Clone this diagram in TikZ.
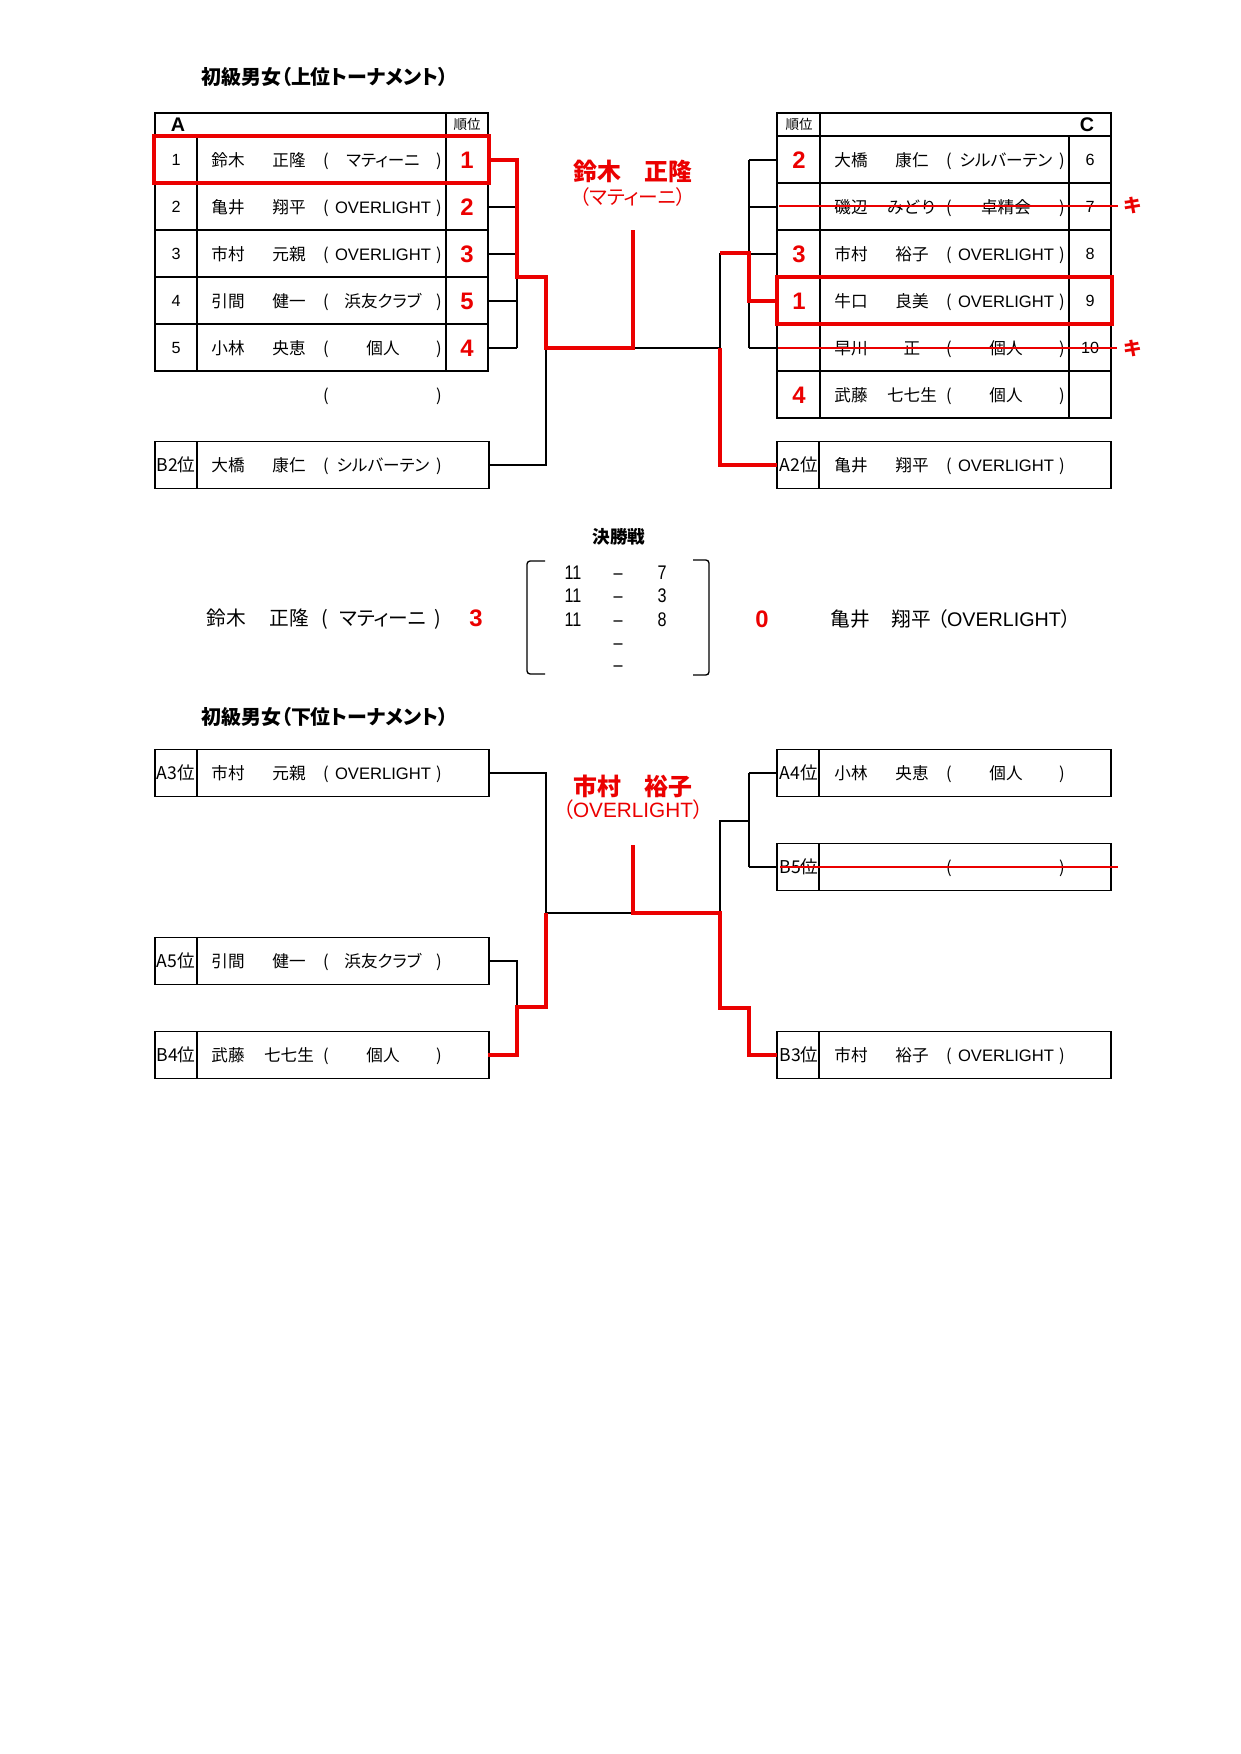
\documentclass[tikz,border=0pt]{standalone}
\usepackage{fontspec}
\usepackage{graphicx}
\setmainfont{Noto Sans CJK JP}
\newfontfamily\jpp[RawFeature=+palt]{Noto Sans CJK JP}
\newfontfamily\lat{Liberation Sans}
\definecolor{rd}{RGB}{235,0,0}
\newcommand\fs[1]{\fontsize{#1}{#1}\selectfont}
\newcommand\OL{{\lat OVERLIGHT}}
\tikzset{
 tx/.style={inner sep=0pt, text depth=0pt, text height=#1},
 nm/.style={tx=6pt, font=\fs{8}},
 af/.style={tx=6pt, font=\jpp\fs{8}},
 num/.style={tx=5.6pt, font=\lat\fs{7.8}},
 lbl/.style={tx=6.4pt, font=\fs{8.5}},
 rk/.style={tx=8.2pt, font=\lat\bfseries\fs{11.5}, text=rd},
 hd/.style={tx=4.9pt, font=\fs{6.5}},
 blk/.style={tx=6.8pt, font=\lat\bfseries\fs{9.5}},
 ttl/.style={tx=7.2pt, font=\jpp\bfseries\fs{9.6}, anchor=west},
 winA/.style={tx=8.6pt, font=\bfseries\fs{11.5}, text=rd},
 winB/.style={tx=7pt, font=\jpp\fs{9.5}, text=rd},
 fin/.style={tx=7.1pt, font=\fs{9.5}},
 fint/.style={tx=6.4pt, font=\bfseries\fs{8.5}},
 sc/.style={tx=6.8pt, font=\lat\fs{9.5}},
 scr/.style={tx=8.2pt, font=\lat\bfseries\fs{11.5}, text=rd},
 kk/.style={tx=6.8pt, font=\bfseries\fs{9}, text=rd},
 tbl/.style={line width=0.9pt},
 rl/.style={line width=0.7pt},
 conn/.style={line width=0.65pt},
 win/.style={draw=rd, line width=1.9pt},
 strike/.style={draw=rd, line width=1pt},
}
% person row: prefix, name-column left x, y, surname, given, affiliation
\newcommand\prow[6]{%
 \node[nm] (#1s) at ({#2+31},#3) {#4};
 \node[nm] (#1g) at ({#2+92},#3) {#5};
 \node[nm] (#1o) at ({#2+129},#3) {(};
 \node[af] (#1a) at ({#2+186},#3) {#6};
 \node[nm] (#1c) at ({#2+242},#3) {)};
}
% seed box: left x, center y
\newcommand\seedbox[2]{%
 \draw[tbl] (#1,{#2-23.5}) rectangle ({#1+334},{#2+23.5});
 \draw[tbl] ({#1+42},{#2-23.5}) -- ({#1+42},{#2+23.5});
}
\begin{document}
\begin{tikzpicture}[x=0.016933cm,y=-0.016933cm]
\useasboundingbox[fill=white] (0,0) rectangle (1240,1754);

% ---------- titles ----------
\node[ttl] (t1) at (201,77) {初級男女（上位トーナメント）};
\node[ttl] (t2) at (201,717) {初級男女（下位トーナメント）};

% ---------- table A ----------
\draw[tbl] (155,113) rectangle (488,371);
\draw[tbl] (155,136) -- (488,136);
\foreach \yy in {183,230,277,324} \draw[rl] (155,\yy) -- (488,\yy);
\draw[tbl] (197,136) -- (197,371);
\draw[tbl] (446,113) -- (446,371);
\node[blk] (hA) at (178,124) {A};
\node[hd] (hAr) at (467,124) {順位};
\node[num] (na1) at (176,160) {1};
\node[num] (na2) at (176,207) {2};
\node[num] (na3) at (176,254) {3};
\node[num] (na4) at (176,301) {4};
\node[num] (na5) at (176,348) {5};
\prow{a1}{197}{160}{鈴木}{正隆}{マティーニ}
\prow{a2}{197}{207}{亀井}{翔平}{\OL}
\prow{a3}{197}{254}{市村}{元親}{\OL}
\prow{a4}{197}{301}{引間}{健一}{浜友クラブ}
\prow{a5}{197}{348}{小林}{央恵}{個人}
\node[rk] (ra1) at (467,160) {1};
\node[rk] (ra2) at (467,207) {2};
\node[rk] (ra3) at (467,254) {3};
\node[rk] (ra4) at (467,301) {5};
\node[rk] (ra5) at (467,348) {4};
\node[nm] (ep1) at (326,395) {(};
\node[nm] (ep2) at (439,395) {)};
\draw[win] (154,136) rectangle (489,183);

% B2 box
\seedbox{155}{465}
\node[lbl] (lb2) at (176,465) {B2位};
\prow{b2}{197}{465}{大橋}{康仁}{シルバーテン}

% ---------- table C ----------
\draw[tbl] (777,113) rectangle (1111,418);
\draw[tbl] (777,136) -- (1111,136);
\foreach \yy in {183,230,277,324,371} \draw[rl] (777,\yy) -- (1111,\yy);
\draw[tbl] (820,113) -- (820,418);
\draw[tbl] (1069,136) -- (1069,418);
\node[hd] (hCr) at (799,124) {順位};
\node[blk] (hC) at (1087,124) {C};
\prow{c1}{820}{160}{大橋}{康仁}{シルバーテン}
\prow{c2}{820}{207}{磯辺}{みどり}{卓精会}
\prow{c3}{820}{254}{市村}{裕子}{\OL}
\prow{c4}{820}{301}{牛口}{良美}{\OL}
\prow{c5}{820}{348}{早川}{正}{個人}
\prow{c6}{820}{395}{武藤}{七七生}{個人}
\node[num] (nc1) at (1090,160) {6};
\node[num] (nc2) at (1090,207) {7};
\node[num] (nc3) at (1090,254) {8};
\node[num] (nc4) at (1090,301) {9};
\node[num] (nc5) at (1090,348) {10};
\node[rk] (rc1) at (799,160) {2};
\node[rk] (rc3) at (799,254) {3};
\node[rk] (rc4) at (799,301) {1};
\node[rk] (rc6) at (799,395) {4};
\draw[win] (777,277) rectangle (1112,324);
% strike-outs
\coordinate (s2a) at (779,206); \coordinate (s2b) at (1118,206);
\coordinate (s5a) at (778,348); \coordinate (s5b) at (1117,348);
\draw[strike] (s2a) -- (s2b);
\draw[strike] (s5a) -- (s5b);
\node[kk] (k1) at (1133,205) {キ};
\node[kk] (k2) at (1133,348) {キ};

% A2 box
\seedbox{777}{465}
\node[lbl] (la2) at (799,465) {A2位};
\prow{x2}{820}{465}{亀井}{翔平}{\OL}

% ---------- upper connectors ----------
\coordinate (A1r) at (488,160);
\coordinate (A2r) at (488,207);
\coordinate (A3r) at (488,254);
\coordinate (A4r) at (488,301);
\coordinate (A5r) at (488,348);
\coordinate (B2r) at (488,465);
\coordinate (jA1) at (517,160);
\coordinate (jA2) at (517,207);
\coordinate (jA3) at (517,254);
\coordinate (jA4) at (517,301);
\coordinate (jA5) at (517,348);
\coordinate (jA) at (517,277);
\coordinate (jAB) at (546,277);
\coordinate (jL) at (546,348);
\coordinate (jB2) at (546,465);
\coordinate (cTop) at (633,230);
\coordinate (cMid) at (633,348);
\coordinate (jR) at (720,348);
\coordinate (jRt) at (720,253);
\coordinate (jRb) at (720,465);
\coordinate (jC) at (749,253);
\coordinate (jC1) at (749,301);
\coordinate (jCt) at (749,160);
\coordinate (jC2) at (749,207);
\coordinate (jC3) at (749,254);
\coordinate (jCb) at (749,348);
\coordinate (C1l) at (777,160);
\coordinate (C2l) at (777,207);
\coordinate (C3l) at (777,254);
\coordinate (C4l) at (777,301);
\coordinate (C5l) at (777,348);
\coordinate (X2l) at (777,465);

\draw[conn] (A2r) -- (jA2);
\draw[conn] (A3r) -- (jA3);
\draw[conn] (A4r) -- (jA4);
\draw[conn] (A5r) -- (jA5);
\draw[conn] (jA2) -- (jA5);
\draw[conn] (jL) -- (jB2) -- (B2r);
\draw[conn] (cMid) -- (jR) -- (jRt);
\draw[conn] (jCt) -- (jCb);
\draw[conn] (jCt) -- (C1l);
\draw[conn] (jC2) -- (C2l);
\draw[conn] (jC3) -- (C3l);
\draw[conn] (jCb) -- (C5l);
\draw[win] (A1r) -- (jA1) -- (jA) -- (jAB) -- (jL) -- (cMid) -- (cTop);
\draw[win] (X2l) -- (jRb) -- (jR);
\draw[win] (C4l) -- (jC1) -- (jC) -- (jRt);

\node[winA] (w1) at (633,172) {鈴木　正隆};
\node[winB] (w1b) at (633,197) {（マティーニ）};

% ---------- final ----------
\node[fint] (fT) at (619,537) {決勝戦};
\coordinate (bl1) at (545,561); \coordinate (bl2) at (527,561);
\coordinate (bl3) at (527,674); \coordinate (bl4) at (545,674);
\coordinate (br1) at (693,560); \coordinate (br2) at (709,560);
\coordinate (br3) at (709,675); \coordinate (br4) at (693,675);
\draw[conn, rounded corners=1.5] (bl1) -- (bl2) -- (bl3) -- (bl4);
\draw[conn, rounded corners=1.5] (br1) -- (br2) -- (br3) -- (br4);
\foreach \yy/\aa/\bb [count=\i] in {572/11/7, 595/11/3, 619/11/8} {
  \node[sc] (sl\i) at (573,\yy) {\scalebox{0.82}[1]{\aa}};
  \node[sc] (sm\i) at (618,\yy) {\scalebox{0.82}[1]{–}};
  \node[sc] (sr\i) at (662,\yy) {\scalebox{0.82}[1]{\bb}};
}
\node[sc] (sm4) at (618,642) {\scalebox{0.82}[1]{–}};
\node[sc] (sm5) at (618,664) {\scalebox{0.82}[1]{–}};
\node[fin] (fl1) at (226,618) {鈴木};
\node[fin] (fl2) at (289,618) {正隆};
\node[fin] (fl3) at (325,618) {(};
\node[fin, font=\jpp\fs{9.5}] (fl4) at (383,618) {マティーニ};
\node[fin] (fl5) at (438,618) {)};
\node[scr] (fs1) at (476,618) {3};
\node[scr] (fs2) at (762,619) {0};
\node[fin] (fr1) at (850,619) {亀井};
\node[fin] (fr2) at (911,619) {翔平};
\node[fin, font=\jpp\fs{9.5}] (fr3) at (1004,619) {（\OL）};

% ---------- lower tournament ----------
\seedbox{155}{773}
\node[lbl] (la3) at (176,773) {A3位};
\prow{l1}{197}{773}{市村}{元親}{\OL}
\seedbox{155}{961}
\node[lbl] (la5) at (176,961) {A5位};
\prow{l2}{197}{961}{引間}{健一}{浜友クラブ}
\seedbox{155}{1055}
\node[lbl] (lb4) at (176,1055) {B4位};
\prow{l3}{197}{1055}{武藤}{七七生}{個人}

\seedbox{777}{773}
\node[lbl] (la4) at (799,773) {A4位};
\prow{r1}{820}{773}{小林}{央恵}{個人}
\seedbox{777}{867}
\node[lbl] (lb5) at (799,867) {B5位};
\node[nm] (r2o) at (949,867) {(};
\node[nm] (r2c) at (1062,867) {)};
\coordinate (s6a) at (780,867); \coordinate (s6b) at (1118,867);
\draw[strike] (s6a) -- (s6b);
\seedbox{777}{1055}
\node[lbl] (lb3) at (799,1055) {B3位};
\prow{r3}{820}{1055}{市村}{裕子}{\OL}

\coordinate (L3r) at (488,773);
\coordinate (L5r) at (488,961);
\coordinate (L4r) at (488,1055);
\coordinate (lj1) at (546,773);
\coordinate (lj2) at (546,913);
\coordinate (lj3) at (517,961);
\coordinate (lj4) at (517,1007);
\coordinate (lj5) at (546,1007);
\coordinate (lj6) at (517,1055);
\coordinate (lc) at (633,913);
\coordinate (lcTop) at (633,845);
\coordinate (rj1) at (720,913);
\coordinate (rj2) at (720,821);
\coordinate (rj3) at (749,821);
\coordinate (rj4) at (749,773);
\coordinate (rj5) at (749,867);
\coordinate (rA4) at (777,773);
\coordinate (rB5) at (777,867);
\coordinate (rj6) at (720,1008);
\coordinate (rj7) at (749,1008);
\coordinate (rj8) at (749,1055);
\coordinate (rB3) at (777,1055);

\draw[conn] (L3r) -- (lj1) -- (lj2);
\draw[conn] (lj2) -- (lc);
\draw[conn] (L5r) -- (lj3) -- (lj4);
\draw[conn] (rj1) -- (rj2) -- (rj3);
\draw[conn] (rj4) -- (rj5);
\draw[conn] (rj4) -- (rA4);
\draw[conn] (rj5) -- (rB5);
\draw[win] (L4r) -- (lj6) -- (lj4) -- (lj5) -- (lj2);
\draw[win] (lcTop) -- (lc) -- (rj1) -- (rj6) -- (rj7) -- (rj8) -- (rB3);

\node[winA] (w2) at (633,787) {市村　裕子};
\node[winB, font=\jpp\fs{10}] (w2b) at (633,810) {（\OL）};
\end{tikzpicture}
\end{document}
